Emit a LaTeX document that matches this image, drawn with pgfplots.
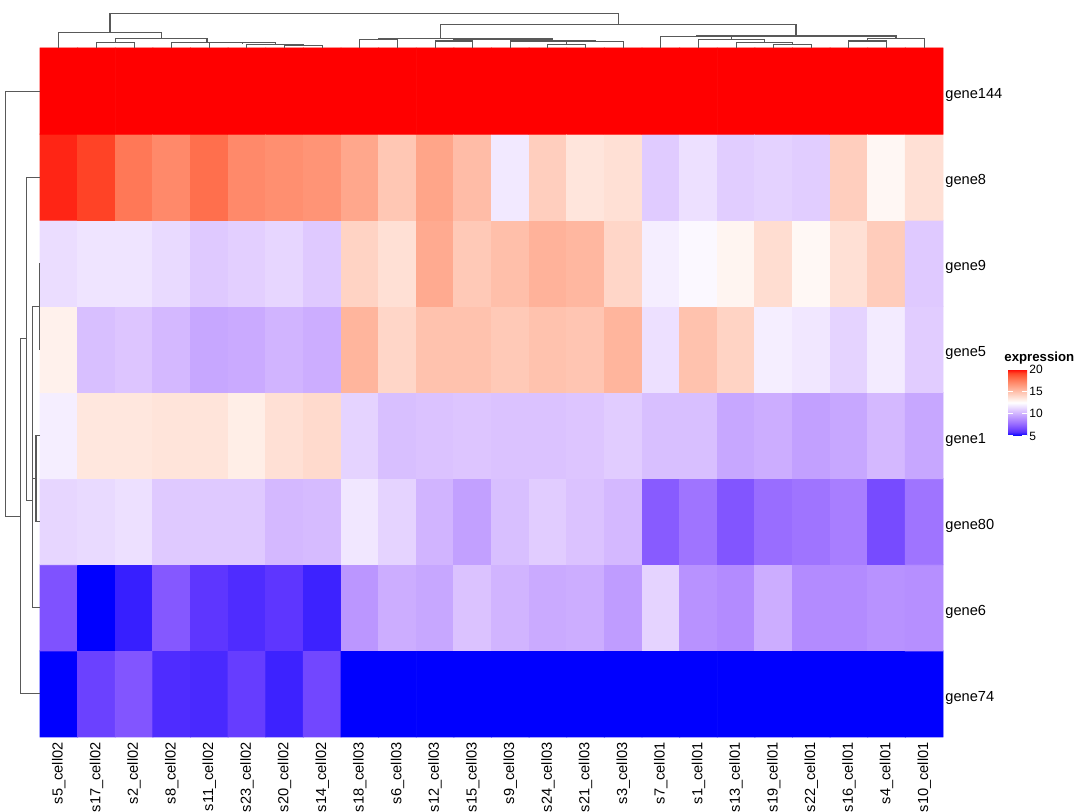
\documentclass[border=0pt]{standalone}
\usepackage{fontspec}
\setmainfont{Liberation Sans}
\usepackage{pgfplots}
\pgfplotsset{compat=1.18}
\pgfplotsset{/pgf/number format/assume math mode=true,
  dend/.style={draw=black!65, line width=0.55pt, mark=none, forget plot}}
\begin{document}
\begin{tikzpicture}
\useasboundingbox (0,0) rectangle (540pt,406pt);
\begin{axis}[
  at={(20pt,37.5pt)}, anchor=south west,
  scale only axis, width=451.5pt, height=344.5pt,
  xmin=-0.5, xmax=23.5, ymin=-0.5, ymax=7.5,
  clip=false, axis line style={draw=none},
  xtick={0,...,23}, ytick={0,...,7},
  xticklabels={s5\_cell02,s17\_cell02,s2\_cell02,s8\_cell02,s11\_cell02,s23\_cell02,s20\_cell02,s14\_cell02,s18\_cell03,s6\_cell03,s12\_cell03,s15\_cell03,s9\_cell03,s24\_cell03,s21\_cell03,s3\_cell03,s7\_cell01,s1\_cell01,s13\_cell01,s19\_cell01,s22\_cell01,s16\_cell01,s4\_cell01,s10\_cell01},
  yticklabels={gene74,gene6,gene80,gene1,gene5,gene9,gene8,gene144},
  major tick length=0pt, tick style={draw=none},
  xticklabel style={yshift=-2.5pt, rotate=90, anchor=east, inner sep=0pt, font=\fontsize{7.3}{8}\selectfont},
  yticklabel pos=right,
  yticklabel style={anchor=west, inner sep=0pt, xshift=1pt, yshift=-2pt, font=\fontsize{7.3}{8}\selectfont},
  colormap={labbwr}{rgb255(0cm)=(0,0,255); rgb255(1cm)=(89,50,255); rgb255(2cm)=(126,81,255);
    rgb255(3cm)=(155,111,255); rgb255(4cm)=(179,139,255); rgb255(5cm)=(200,168,255);
    rgb255(6cm)=(220,196,255); rgb255(7cm)=(238,226,255); rgb255(8cm)=(255,255,255);
    rgb255(9cm)=(255,231,222); rgb255(10cm)=(255,207,191); rgb255(11cm)=(255,183,160);
    rgb255(12cm)=(255,158,129); rgb255(13cm)=(255,132,100); rgb255(14cm)=(255,104,70);
    rgb255(15cm)=(255,70,40); rgb255(16cm)=(255,0,0)},
  point meta min=5, point meta max=20,
  colorbar,
  colorbar style={
    at={(parent axis.south east)}, anchor=south west,
    xshift=24pt, yshift=150.5pt,
    scale only axis, width=9.5pt, height=33.5pt,
    ytick={5,10,15,20},
    ytick pos=both, yticklabel pos=right,
    major tick length=2.5pt,
    tick style={draw=white, line width=0.6pt},
    axis line style={draw=none},
    yticklabel style={font=\fontsize{6}{7}\selectfont, inner sep=0pt, xshift=1pt},
    title={\bfseries expression},
    title style={at={(0,1)}, anchor=south west, inner sep=0pt, xshift=-2pt, yshift=-4pt, font=\fontsize{6.6}{7}\selectfont},
  },
]
\addplot[matrix plot*, mesh/cols=24, point meta=explicit] table[row sep=\\, meta=z] {
x y z \\
0 0 5.0 \\ 1 0 6.39 \\ 2 0 7.0 \\ 3 0 5.83 \\ 4 0 5.77 \\ 5 0 6.27 \\ 6 0 5.64 \\ 7 0 6.57 \\
8 0 5.0 \\ 9 0 5.0 \\ 10 0 5.0 \\ 11 0 5.0 \\ 12 0 5.0 \\ 13 0 5.0 \\ 14 0 5.0 \\ 15 0 5.0 \\
16 0 5.0 \\ 17 0 5.0 \\ 18 0 5.0 \\ 19 0 5.0 \\ 20 0 5.0 \\ 21 0 5.0 \\ 22 0 5.0 \\ 23 0 5.0 \\
0 1 6.9 \\ 1 1 5.0 \\ 2 1 5.58 \\ 3 1 7.1 \\ 4 1 6.06 \\ 5 1 5.83 \\ 6 1 6.06 \\ 7 1 5.64 \\
8 1 9.1 \\ 9 1 9.86 \\ 10 1 9.66 \\ 11 1 10.56 \\ 12 1 10.1 \\ 13 1 9.76 \\ 14 1 9.86 \\ 15 1 9.3 \\
16 1 11.1 \\ 17 1 8.98 \\ 18 1 8.75 \\ 19 1 9.86 \\ 20 1 8.75 \\ 21 1 8.75 \\ 22 1 8.98 \\ 23 1 8.88 \\
0 2 11.19 \\ 1 2 11.32 \\ 2 2 11.49 \\ 3 2 10.79 \\ 4 2 10.79 \\ 5 2 10.79 \\ 6 2 10.23 \\ 7 2 10.33 \\
8 2 11.72 \\ 9 2 11.1 \\ 10 2 10.1 \\ 11 2 9.43 \\ 12 2 10.44 \\ 13 2 10.88 \\ 14 2 10.56 \\ 15 2 10.23 \\
16 2 7.2 \\ 17 2 7.98 \\ 18 2 7.0 \\ 19 2 7.75 \\ 20 2 7.98 \\ 21 2 8.31 \\ 22 2 6.69 \\ 23 2 7.98 \\
0 3 11.95 \\ 1 3 13.44 \\ 2 3 13.44 \\ 3 3 13.56 \\ 4 3 13.56 \\ 5 3 13.17 \\ 6 3 13.71 \\ 7 3 13.95 \\
8 3 11.1 \\ 9 3 10.44 \\ 10 3 10.56 \\ 11 3 10.66 \\ 12 3 10.56 \\ 13 3 10.56 \\ 14 3 10.66 \\ 15 3 10.88 \\
16 3 10.44 \\ 17 3 10.44 \\ 18 3 9.66 \\ 19 3 9.86 \\ 20 3 9.43 \\ 21 3 9.66 \\ 22 3 10.23 \\ 23 3 9.66 \\
0 4 13.05 \\ 1 4 10.44 \\ 2 4 10.66 \\ 3 4 10.23 \\ 4 4 9.66 \\ 5 4 9.76 \\ 6 4 10.1 \\ 7 4 9.86 \\
8 4 15.4 \\ 9 4 14.1 \\ 10 4 14.89 \\ 11 4 14.89 \\ 12 4 14.61 \\ 13 4 14.89 \\ 14 4 14.77 \\ 15 4 15.4 \\
16 4 11.49 \\ 17 4 14.89 \\ 18 4 14.22 \\ 19 4 11.95 \\ 20 4 11.72 \\ 21 4 11.1 \\ 22 4 11.85 \\ 23 4 10.88 \\
0 5 11.4 \\ 1 5 11.62 \\ 2 5 11.62 \\ 3 5 11.32 \\ 4 5 10.79 \\ 5 5 10.97 \\ 6 5 11.19 \\ 7 5 10.79 \\
8 5 14.22 \\ 9 5 13.71 \\ 10 5 15.8 \\ 11 5 14.61 \\ 12 5 15.0 \\ 13 5 15.5 \\ 14 5 15.3 \\ 15 5 14.1 \\
16 5 11.95 \\ 17 5 12.27 \\ 18 5 12.89 \\ 19 5 13.83 \\ 20 5 12.77 \\ 21 5 13.71 \\ 22 5 14.5 \\ 23 5 10.79 \\
0 6 19.5 \\ 1 6 19.1 \\ 2 6 17.6 \\ 3 6 17.0 \\ 4 6 17.9 \\ 5 6 17.0 \\ 6 6 16.8 \\ 7 6 16.6 \\
8 6 15.9 \\ 9 6 14.7 \\ 10 6 16.0 \\ 11 6 15.1 \\ 12 6 11.8 \\ 13 6 14.4 \\ 14 6 13.5 \\ 15 6 13.7 \\
16 6 10.85 \\ 17 6 11.5 \\ 18 6 10.9 \\ 19 6 11.05 \\ 20 6 10.9 \\ 21 6 14.4 \\ 22 6 12.8 \\ 23 6 13.7 \\
0 7 20 \\ 1 7 20 \\ 2 7 20 \\ 3 7 20 \\ 4 7 20 \\ 5 7 20 \\ 6 7 20 \\ 7 7 20 \\
8 7 20 \\ 9 7 20 \\ 10 7 20 \\ 11 7 20 \\ 12 7 20 \\ 13 7 20 \\ 14 7 20 \\ 15 7 20 \\
16 7 20 \\ 17 7 20 \\ 18 7 20 \\ 19 7 20 \\ 20 7 20 \\ 21 7 20 \\ 22 7 20 \\ 23 7 20 \\
};
% top dendrogram
\addplot[dend] coordinates {(1,7.5) (1,7.562) (2,7.562) (2,7.5)};
\addplot[dend] coordinates {(6,7.5) (6,7.531) (7,7.531) (7,7.5)};
\addplot[dend] coordinates {(5,7.5) (5,7.543) (6.5,7.543) (6.5,7.531)};
\addplot[dend] coordinates {(4,7.5) (4,7.560) (5.75,7.560) (5.75,7.543)};
\addplot[dend] coordinates {(3,7.5) (3,7.563) (4.875,7.563) (4.875,7.560)};
\addplot[dend] coordinates {(1.5,7.562) (1.5,7.613) (3.9375,7.613) (3.9375,7.563)};
\addplot[dend] coordinates {(0,7.5) (0,7.678) (2.71875,7.678) (2.71875,7.613)};
\addplot[dend] coordinates {(8,7.5) (8,7.601) (9,7.601) (9,7.5)};
\addplot[dend] coordinates {(10,7.5) (10,7.581) (11,7.581) (11,7.5)};
\addplot[dend] coordinates {(13,7.5) (13,7.543) (14,7.543) (14,7.5)};
\addplot[dend] coordinates {(13.5,7.543) (13.5,7.578) (15,7.578) (15,7.5)};
\addplot[dend] coordinates {(12,7.5) (12,7.581) (14.25,7.581) (14.25,7.578)};
\addplot[dend] coordinates {(10.5,7.581) (10.5,7.605) (13.125,7.605) (13.125,7.581)};
\addplot[dend] coordinates {(8.5,7.601) (8.5,7.613) (11.8125,7.613) (11.8125,7.605)};
\addplot[dend] coordinates {(21,7.5) (21,7.581) (22,7.581) (22,7.5)};
\addplot[dend] coordinates {(21.5,7.581) (21.5,7.613) (23,7.613) (23,7.5)};
\addplot[dend] coordinates {(19,7.5) (19,7.543) (20,7.543) (20,7.5)};
\addplot[dend] coordinates {(18,7.5) (18,7.562) (19.5,7.562) (19.5,7.543)};
\addplot[dend] coordinates {(17,7.5) (17,7.601) (18.75,7.601) (18.75,7.562)};
\addplot[dend] coordinates {(16,7.5) (16,7.631) (17.875,7.631) (17.875,7.601)};
\addplot[dend] coordinates {(16.9375,7.631) (16.9375,7.639) (22.25,7.639) (22.25,7.613)};
\addplot[dend] coordinates {(10.15625,7.613) (10.15625,7.775) (19.59375,7.775) (19.59375,7.639)};
\addplot[dend] coordinates {(1.359375,7.678) (1.359375,7.898) (14.875,7.898) (14.875,7.775)};
% left dendrogram
\addplot[dend] coordinates {(-0.5,5) (-0.5186,5) (-0.5186,4) (-0.5,4)};
\addplot[dend] coordinates {(-0.5,3) (-0.6063,3) (-0.6063,2) (-0.5,2)};
\addplot[dend] coordinates {(-0.5186,4.5) (-0.694,4.5) (-0.694,2.5) (-0.6063,2.5)};
\addplot[dend] coordinates {(-0.694,3.5) (-0.7073,3.5) (-0.7073,1) (-0.5,1)};
\addplot[dend] coordinates {(-0.5,6) (-0.8535,6) (-0.8535,2.25) (-0.7073,2.25)};
\addplot[dend] coordinates {(-0.8535,4.125) (-1.013,4.125) (-1.013,0) (-0.5,0)};
\addplot[dend] coordinates {(-0.5,7) (-1.4116,7) (-1.4116,2.0625) (-1.013,2.0625)};
\end{axis}
\end{tikzpicture}
\end{document}
